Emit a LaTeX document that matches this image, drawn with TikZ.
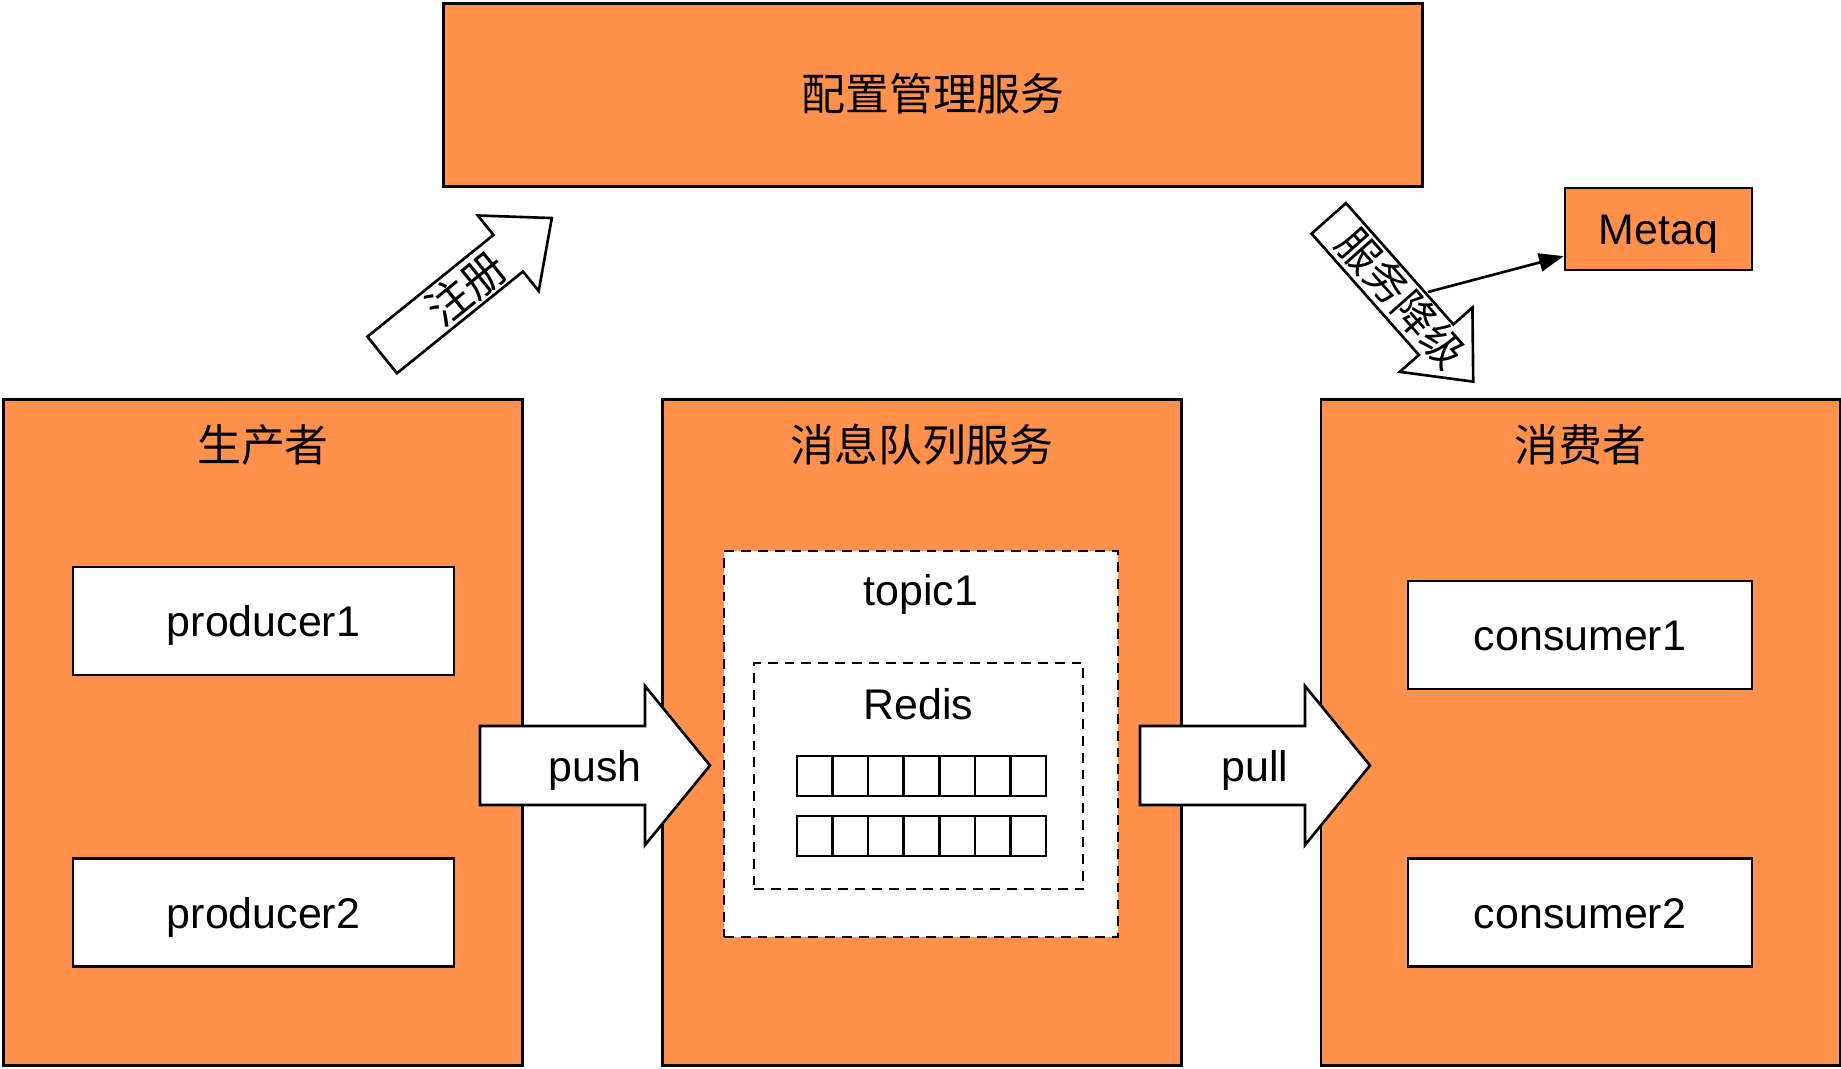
\documentclass[tikz,border=0pt]{standalone}
\usepackage{fontspec}
\setmainfont{Liberation Sans}
\newfontfamily\cjk{Noto Sans CJK SC}
\usepackage{tikz}
\usetikzlibrary{arrows.meta, positioning, calc}
\definecolor{cfgorange}{RGB}{255,145,77}

\begin{document}
\begin{tikzpicture}[
    x=0.01cm, y=-0.01cm,
    >={Triangle[length=7pt, width=5.2pt]},
    font=\fontsize{12.2pt}{14pt}\selectfont,
    every node/.style={text height=9pt, text depth=0pt},
    % --- box styles ---
    groupbox/.style={draw=black, line width=0.75pt, fill=cfgorange,
        minimum width=5.19cm, minimum height=6.65cm, inner sep=0pt},
    cfgbox/.style={draw=black, line width=0.75pt, fill=cfgorange, inner sep=0pt},
    clientbox/.style={draw=black, line width=0.75pt, fill=white,
        minimum height=1.08cm, inner sep=0pt},
    topicbox/.style={draw=black, line width=0.75pt, fill=white,
        dash pattern=on 2.8pt off 2pt, inner sep=0pt},
    cellbox/.style={draw=black, line width=0.75pt, fill=white,
        minimum width=0.3557cm, minimum height=0.40cm, inner sep=0pt},
    grouptitle/.style={font=\cjk\fontsize{12.5pt}{14pt}\selectfont, inner sep=0pt},
    % --- arrow styles ---
    fatarrow/.style={draw=black, line width=0.75pt, fill=white, line join=miter},
    link/.style={->, line width=0.75pt},
]
\useasboundingbox (0,0) rectangle (1841,1069);

% ---- Config service and Metaq ----
\node[cfgbox, minimum width=9.78cm, minimum height=1.835cm] (cfg) at (933,95)
    {\cjk\fontsize{12.5pt}{14pt}\selectfont 配置管理服务};
\node[cfgbox, minimum width=1.87cm, minimum height=0.82cm] (metaq) at (1658.5,229) {Metaq};

% ---- Three groups ----
\node[groupbox] (prod) at (263,732.5) {};
\node[groupbox, right=1.37cm of prod] (mq) {};
\node[groupbox, right=1.365cm of mq] (cons) {};

\node[grouptitle] (prodtitle) at ($(prod.north)+(0,47)$) {生产者};
\node[grouptitle] (mqtitle)   at ($(mq.north)+(0,47)$)   {消息队列服务};
\node[grouptitle] (constitle) at ($(cons.north)+(0,47)$) {消费者};

% ---- Producers / consumers ----
\node[clientbox, minimum width=3.81cm] (prod1) at (263.5,621)   {producer1};
\node[clientbox, minimum width=3.81cm] (prod2) at (263.5,912.5) {producer2};
\node[clientbox, minimum width=3.44cm] (cons1) at (1580,635)    {consumer1};
\node[clientbox, minimum width=3.44cm] (cons2) at (1580,912.5)  {consumer2};

% ---- Topic with Redis queues ----
\node[topicbox, minimum width=3.94cm, minimum height=3.86cm] (topic) at (921,744) {};
\node (topiclbl) at ($(topic.north)+(0,40)$) {topic1};
\node[topicbox, minimum width=3.29cm, minimum height=2.26cm] (redis) at (918.5,776) {};
\node (redislbl) at ($(redis.north)+(0,42)$) {Redis};

\foreach \r/\yy in {a/776, b/836}{
    \foreach \c in {0,...,6}{
        \node[cellbox] (cell\r\c) at ({814.8+35.57*\c},\yy) {};
    }
}

% ---- push / pull arrows ----
\foreach \nm/\cx in {push/595, pull/1255}{
    \draw[fatarrow, shift={(\cx,765.5)}]
        (-115,-39.5) -- (50,-39.5) -- (50,-79.5) -- (115,0)
        -- (50,79.5) -- (50,39.5) -- (-115,39.5) -- cycle;
    \node (\nm) at (\cx,765.5) {\nm};
}

% ---- Register arrow (producer -> config) ----
\draw[fatarrow, shift={(467,286.5)}, rotate=38.9]
    (-109,-23.5) -- (53,-23.5) -- (53,-48.5) -- (109,0)
    -- (53,48.5) -- (53,23.5) -- (-109,23.5) -- cycle;
\node[grouptitle, rotate=38.9] (reg) at (467,289) {注册};

% ---- Downgrade arrow (config -> consumer) ----
\draw[fatarrow, shift={(1401,300)}, rotate=-48.5]
    (-109,-23) -- (53,-23) -- (53,-48.5) -- (109,0)
    -- (53,48.5) -- (53,23) -- (-109,23) -- cycle;
\node[grouptitle, rotate=-48.5, font=\cjk\fontsize{12pt}{14pt}\selectfont]
    (downgrade) at (1401,298) {服务降级};

\coordinate (dgfoot) at (1428,292);
\draw[link] (dgfoot) -- ($(metaq.south west)!0.18!(metaq.north west)$);

\end{tikzpicture}
\end{document}
